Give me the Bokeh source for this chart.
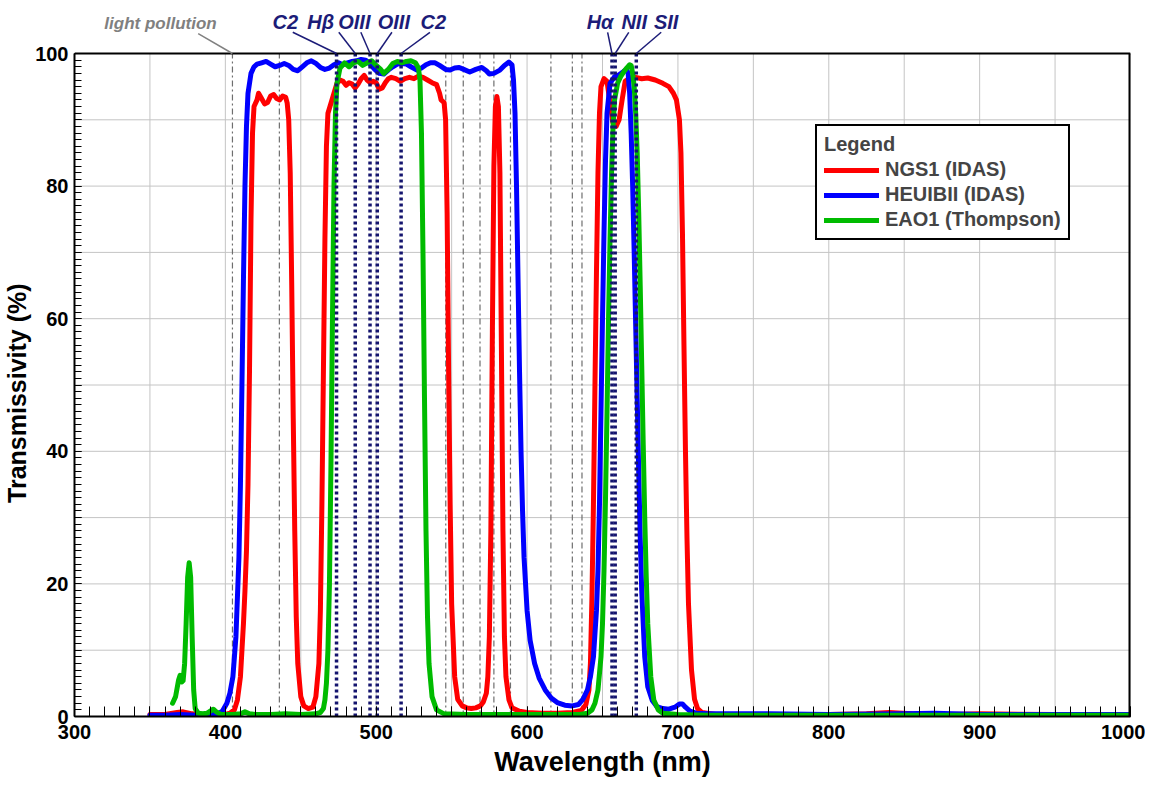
from bokeh.plotting import figure
from bokeh.models import FixedTicker, Legend, LegendItem, Label, Range1d
from bokeh.embed import file_html
from bokeh.resources import INLINE

FONT = "Liberation Sans"

# ---------------- data ----------------
ngs1_wl = [350, 360, 368, 372, 378, 390, 400, 403, 406, 408, 410, 411, 412, 413, 414, 415, 416, 417, 418, 419, 421,
           422, 424, 426, 428, 430, 432, 434, 436, 438, 440, 441, 442, 443, 444, 445, 446, 447, 448, 450, 452, 455,
           458, 460, 462, 463, 464, 465, 466, 467, 468, 470, 472, 474, 476, 478, 480, 482, 484, 486, 488, 490, 492,
           494, 496, 498, 500, 502, 504, 506, 508, 510, 513, 516, 519, 522, 525, 528, 531, 534, 537, 540, 542, 543,
           545, 546, 547, 548, 549, 550, 552, 554, 557, 560, 563, 566, 569, 571, 573, 574, 575, 576, 577, 578, 579,
           580, 581, 582, 583, 584, 585, 586, 588, 590, 595, 600, 610, 620, 630, 636, 639, 641, 642, 643, 644, 645,
           646, 647, 648, 649, 651, 653, 655, 657, 659, 661, 663, 665, 668, 672, 676, 680, 685, 690, 694, 697, 699,
           701, 702, 703, 704, 705, 706, 707, 709, 711, 713, 716, 725, 760, 800, 825, 840, 855, 880, 900, 950, 1000]
ngs1_t = [0.3, 0.3, 0.6, 0.7, 0.4, 0.2, 0.3, 0.5, 1.0, 2.5, 6, 10, 14, 19, 25, 35, 52, 75, 88, 92, 93,
          94, 93.2, 92.4, 92.6, 93.6, 93.8, 93.2, 93.0, 93.6, 93.4, 92.5, 90, 82, 65, 45, 28, 15, 8, 3, 1.6, 1.2,
          1.4, 3, 8, 16, 32, 52, 72, 86, 91, 92.5, 94, 95.5, 96, 95.8, 95.2, 95.6, 95.4, 94.8, 95.4, 96.2, 96.7,
          96, 95.6, 95.8, 95.6, 94.6, 94.8, 95.6, 96.2, 96.4, 96.2, 95.8, 96.2, 96.4, 96.2, 96.6, 96.4, 96.0, 95.6,
          95.3, 94, 93, 92.6, 90, 76, 52, 32, 17, 6, 2.6, 1.6, 1.3, 1.2, 1.3, 1.6, 2.2, 3.5, 6, 12, 28, 58, 83, 92,
          93.5, 92, 82, 55, 28, 12, 6, 2.5, 1.3, 0.8, 0.6, 0.5, 0.5, 0.6, 0.9, 1.8, 4, 8, 18, 32, 50,
          67, 82, 91, 95, 96.2, 95.8, 92.5, 89.5, 89, 90, 93, 95.8, 96.3, 96.4, 96.2, 96.3, 96, 95.5, 95, 94, 93,
          90, 85, 73, 56, 40, 27, 17, 7, 2.6, 1.2, 0.6, 0.3, 0.3, 0.3, 0.4, 0.6, 0.4, 0.3, 0.4, 0.3, 0.3]

heuib_wl = [350, 360, 370, 380, 390, 395, 398, 401, 403, 405, 407, 409, 410, 411, 412, 413, 414, 415, 417, 419,
            421, 424, 427, 430, 433, 436, 439, 442, 445, 448, 451, 454, 457, 460, 463, 466, 469, 472, 475, 478,
            481, 484, 487, 490, 493, 496, 499, 502, 505, 508, 511, 514, 517, 520, 523, 527, 530, 533, 536, 539,
            542, 546, 549, 552, 555, 558, 562, 566, 570, 573, 575, 578, 582, 585, 588, 590, 591, 592, 593, 594,
            595, 596, 597, 598, 600, 602, 605, 608, 612, 616, 620, 625, 630, 634, 637, 640, 642, 644, 646, 647,
            648, 649, 650, 651, 652, 653, 655, 658, 661, 664, 666, 667, 668, 669, 670, 671, 672, 673, 674, 675,
            676, 678, 680, 683, 686, 690, 694, 698, 701, 703, 705, 708, 712, 720, 760, 800, 850, 870, 900, 950, 1000]
heuib_t = [0.2, 0.2, 0.3, 0.2, 0.3, 0.4, 0.8, 2, 3.5, 6, 12, 24, 35, 50, 66, 80, 89, 94, 97, 98,
           98.4, 98.6, 98.8, 98.4, 98.0, 98.2, 98.5, 98.2, 97.6, 97.4, 98.0, 98.6, 98.9, 98.5, 97.9, 97.6, 97.8,
           98.3, 98.6, 98.3, 98.6, 98.8, 98.9, 99.1, 99.0, 98.4, 97.6, 97.0, 96.9, 97.5, 98.0, 98.4, 98.5, 98.4,
           98.0, 97.5, 97.8, 98.3, 98.6, 98.6, 98.2, 97.6, 97.5, 97.8, 97.9, 97.6, 97.2, 97.6, 97.9, 97.4, 96.9,
           97.0, 97.5, 98.2, 98.7, 98.3, 96, 91, 80, 66, 52, 40, 31, 24, 16, 11.5, 8, 5.8, 4, 2.8, 2.1, 1.7, 1.6,
           1.8, 2.6, 4, 6, 9, 16, 22, 32, 46, 60, 73, 84, 91, 95.5, 96.5, 96.8, 97.3, 97.6, 97, 94, 88, 80, 70, 59,
           48, 37, 27, 19, 9, 4.5, 2.4, 1.5, 1.2, 1.1, 1.4, 1.9, 1.9, 1.4, 0.8, 0.5, 0.4, 0.4, 0.3, 0.4, 0.5, 0.3,
           0.3, 0.3]

eao1_wl = [365, 367, 369, 370, 371, 372, 373, 374, 375, 376, 377, 378, 379, 380, 382, 385, 388, 390, 392, 394,
           397, 400, 405, 410, 413, 416, 420, 430, 440, 450, 460, 463, 465, 466, 467, 468, 469, 470, 471, 472, 473,
           474, 476, 479, 482, 485, 488, 491, 494, 497, 500, 503, 505, 508, 511, 514, 517, 520, 523, 526, 528, 529,
           530, 531, 532, 533, 534, 535, 537, 540, 545, 560, 580, 600, 620, 635, 640, 643, 645, 647, 649, 650, 651,
           652, 653, 654, 655, 656, 657, 658, 660, 662, 664, 666, 668, 669, 670, 671, 672, 673, 674, 675, 676, 677,
           678, 679, 680, 682, 684, 687, 690, 700, 720, 800, 900, 1000]
eao1_t = [2, 3, 5.5, 6.2, 5.2, 5.4, 8, 14, 21, 23.2, 21, 12, 4, 1.2, 0.5, 0.4, 0.5, 0.8, 1.1, 0.7,
          0.3, 0.3, 0.3, 0.4, 0.7, 0.4, 0.3, 0.3, 0.4, 0.3, 0.4, 0.6, 1.2, 2.5, 5, 10, 20, 38, 60, 80, 91,
          95.5, 97.8, 98.6, 98.0, 98.6, 98.8, 98.2, 98.6, 98.9, 98.2, 97.6, 97.0, 97.6, 98.5, 98.8, 98.6, 98.8,
          98.9, 98.6, 97.8, 96, 88, 70, 48, 28, 15, 8, 3, 1, 0.4, 0.3, 0.3, 0.3, 0.3, 0.3, 0.5, 1, 2, 4, 9, 14,
          22, 33, 46, 60, 72, 82, 89, 93, 95.5, 96.5, 97.2, 97.8, 98.3, 98.2, 97, 95, 91, 85, 76, 65, 53, 41, 30,
          21, 14, 6, 2.5, 1, 0.5, 0.3, 0.2, 0.2, 0.2, 0.2]

series_names = ["NGS1 (IDAS)", "HEUIBII (IDAS)", "EAO1 (Thompson)"]
series_colors = ["#ff0000", "#0000ff", "#00bb00"]

light_pollution_wl = [404.7, 435.8, 546.1, 557.7, 568.8, 578.0, 589.0, 615.8, 630.0, 636.4]

emission_wl = [473.7, 486.1, 495.9, 500.7, 516.5, 656.3, 658.4, 672.4]
emission_names = ["C2", "H\u03b2", "OIII", "OIII", "C2", "H\u03b1", "NII", "SII"]
emission_label_x = [439.7, 463.2, 485.5, 511.7, 537.9, 648.4, 671.0, 692.2]
emission_leader_x = [444.7, 475.2, 489.8, 510.4, 535.6, 653.4, 667.4, 688.9]

X_MIN, X_MAX = 300, 1000
Y_MIN, Y_MAX = 0, 100
x_major = list(range(300, 1001, 50))
x_minor = list(range(300, 1001, 10))
x_labels = {t: (str(t) if t % 100 == 0 else "") for t in x_major}
y_major = list(range(0, 101, 10))
y_minor = list(range(0, 101, 1))
y_labels = {t: (str(t) if t % 20 == 0 else "") for t in y_major}

# ---------------- layout ----------------
FIG_W, FIG_H = 1145, 783
B_LEFT, B_RIGHT, B_TOP, B_BOTTOM = 67, 15, 0, 67
PLOT_TOP_PX = 53          # distance from figure top to the y=100 line
frame_h = FIG_H - B_TOP - B_BOTTOM
y_top = Y_MAX * frame_h / (frame_h - (PLOT_TOP_PX - B_TOP))

p = figure(width=FIG_W, height=FIG_H, x_range=Range1d(X_MIN, X_MAX), y_range=Range1d(Y_MIN, y_top),
           output_backend="svg", toolbar_location=None,
           min_border_left=B_LEFT, min_border_right=B_RIGHT, min_border_top=B_TOP, min_border_bottom=B_BOTTOM)
p.background_fill_color = "white"
p.border_fill_color = "white"
p.outline_line_color = None
p.xgrid.visible = False
p.ygrid.visible = False

p.xaxis.ticker = FixedTicker(ticks=x_major, minor_ticks=x_minor)
p.yaxis.ticker = FixedTicker(ticks=y_major, minor_ticks=y_minor)
p.xaxis.major_label_overrides = x_labels
p.yaxis.major_label_overrides = y_labels
p.yaxis.bounds = (Y_MIN, Y_MAX)

for ax in (p.xaxis, p.yaxis):
    ax.axis_line_color = "black"
    ax.axis_line_width = 2
    ax.major_tick_line_color = "black"
    ax.minor_tick_line_color = "black"
    ax.major_tick_out = 0
    ax.minor_tick_out = 0
    ax.major_label_text_font = FONT
    ax.major_label_text_font_style = "bold"
    ax.major_label_text_font_size = "20px"
    ax.major_label_text_color = "black"
    ax.axis_label_text_font = FONT
    ax.axis_label_text_font_style = "bold"
    ax.axis_label_text_color = "black"

p.xaxis.axis_label_text_font_size = "27px"
p.yaxis.axis_label_text_font_size = "25px"
p.xaxis.major_tick_in = 10
p.xaxis.minor_tick_in = 10
p.yaxis.major_tick_in = 7
p.yaxis.minor_tick_in = 7
p.xaxis.major_label_standoff = 8
p.yaxis.major_label_standoff = 6
p.xaxis.axis_label = "Wavelength (nm)"
# trailing no-break spaces move the rotated title down to the centre of the 0..100 box
p.yaxis.axis_label = "Transmissivity (%)" + "\u00a0" * 10
p.xaxis.axis_label_standoff = 5
p.yaxis.axis_label_standoff = 1

# grid (only inside the 0..100 box)
GRID = "#c4c4c4"
p.segment(x0=x_major, y0=[Y_MIN] * len(x_major), x1=x_major, y1=[Y_MAX] * len(x_major),
          line_color=GRID, line_width=1)
p.segment(x0=[X_MIN] * len(y_major), y0=y_major, x1=[X_MAX] * len(y_major), y1=y_major,
          line_color=GRID, line_width=1)

# light pollution reference lines
p.segment(x0=light_pollution_wl, y0=[Y_MIN] * len(light_pollution_wl),
          x1=light_pollution_wl, y1=[Y_MAX] * len(light_pollution_wl),
          line_color="#6e6e6e", line_width=1.2, line_dash="6 3 2 3")

# filter curves
renderers = []
for wl, t, c in zip([ngs1_wl, heuib_wl, eao1_wl], [ngs1_t, heuib_t, eao1_t], series_colors):
    r = p.line(wl, t, line_color=c, line_width=5, line_join="round", line_cap="round")
    renderers.append(r)

# emission lines
p.segment(x0=emission_wl, y0=[Y_MIN] * len(emission_wl), x1=emission_wl, y1=[Y_MAX] * len(emission_wl),
          line_color="#14146e", line_width=3.5, line_dash="3 3")

# frame top and right borders
p.segment(x0=[X_MIN], y0=[Y_MAX], x1=[X_MAX], y1=[Y_MAX], line_color="black", line_width=2)
p.segment(x0=[X_MAX], y0=[Y_MIN], x1=[X_MAX], y1=[Y_MAX], line_color="black", line_width=4)

# annotations above the box
LABEL_Y = 104.8
LEADER_Y = 103.2
NAVY = "#1c1c78"
for name, lx in zip(emission_names, emission_label_x):
    p.add_layout(Label(x=lx, y=LABEL_Y, text=name, text_align="center", text_baseline="middle",
                       text_font=FONT, text_font_style="bold italic", text_font_size="20px",
                       text_color=NAVY))
p.segment(x0=emission_leader_x, y0=[LEADER_Y] * len(emission_wl), x1=emission_wl, y1=[Y_MAX] * len(emission_wl),
          line_color=NAVY, line_width=1.5)

p.add_layout(Label(x=357, y=104.5, text="light pollution", text_align="center", text_baseline="middle",
                   text_font=FONT, text_font_style="bold italic", text_font_size="17px",
                   text_color="#808080"))
p.segment(x0=[382.0], y0=[103.0], x1=[light_pollution_wl[0]], y1=[Y_MAX],
          line_color="#808080", line_width=1.5)

# legend
items = [LegendItem(label=n, renderers=[r]) for n, r in zip(series_names, renderers)]
legend = Legend(items=items, location=(741, 476), title="Legend",
                title_text_font=FONT, title_text_font_style="bold", title_text_font_size="20px",
                label_text_font=FONT, label_text_font_style="bold", label_text_font_size="20px",
                border_line_color="black", border_line_width=2, border_line_alpha=1.0,
                background_fill_color="white", background_fill_alpha=1.0,
                glyph_width=55, glyph_height=20, label_height=22, spacing=2, padding=7, margin=0,
                label_standoff=6, title_standoff=2)
p.add_layout(legend)

open("out.html", "w").write(file_html(p, INLINE))
